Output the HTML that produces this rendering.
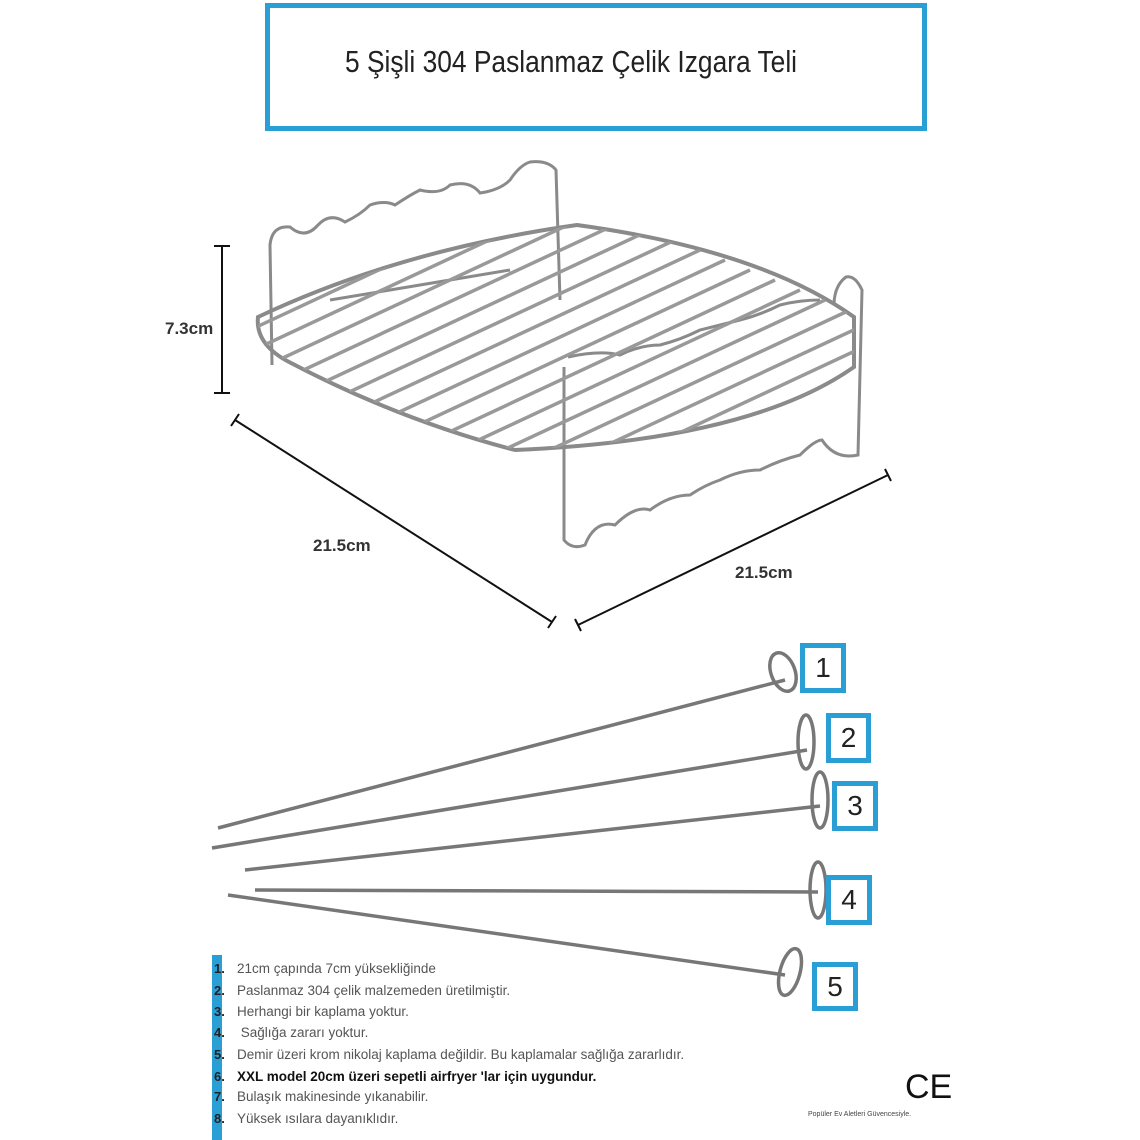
<!DOCTYPE html>
<html><head><meta charset="utf-8"><style>
body{margin:0;background:#fff;width:1140px;height:1140px;overflow:hidden;font-family:"Liberation Sans",sans-serif}
.t{position:absolute;left:237px;font-size:13.5px;color:#555}
.n{position:absolute;left:214px;font-size:13px;color:#222;font-weight:bold}
.box{position:absolute;border:5px solid #2a9fd6;background:#fff;font-size:28px;text-align:center;color:#222;box-sizing:border-box}
</style></head><body>
<div class="box" style="left:265px;top:3px;width:662px;height:128px;"></div>
<div style="position:absolute;left:240px;top:44px;width:662px;text-align:center;font-family:'Liberation Sans Narrow','Liberation Sans',sans-serif;font-size:31px;color:#222;transform:scaleX(0.85)">5 Şişli 304 Paslanmaz Çelik Izgara Teli</div>
<svg width="1140" height="1140" style="position:absolute;left:0;top:0">
<defs><clipPath id="c"><path d="M258,317 Q400,250 577,225 Q760,250 854,317 L854,367 Q750,440 515,450 Q400,420 291,363 Q255,345 258,317Z"/></clipPath></defs>
<g stroke="#8a8a8a" stroke-width="3" fill="none">
<path d="M272,365 L270,245 Q272,225 290,227 Q305,240 318,225 Q330,212 345,222 Q360,215 370,205 Q385,200 395,205 Q410,195 420,190 Q440,195 450,185 Q470,180 480,193 Q500,190 510,180 Q520,165 530,162 Q548,160 556,170 L560,300"/>
<path d="M564,367 L564,540 Q572,550 585,545 Q595,520 615,525 Q635,505 650,510 Q670,495 690,495 Q705,485 720,480 Q740,470 760,470 Q780,460 800,455 Q815,440 822,440 Q835,460 858,455 L862,290 Q855,275 846,277 Q835,285 834,303"/>
<path d="M568,357 Q600,350 620,355 Q640,345 660,345 Q680,340 700,330 Q720,325 740,320 Q760,315 780,305 Q800,300 820,300"/>
<path d="M330,300 Q360,295 390,290 Q420,285 450,280 Q480,275 510,270"/>
<path d="M258,317 Q400,250 577,225 Q760,250 854,317 L854,367 Q750,440 515,450 Q400,420 291,363 Q255,345 258,317Z" stroke-width="4"/>
<g clip-path="url(#c)" stroke-width="3.5" stroke="#999">
<line x1="150" y1="420" x2="600" y2="210"/><line x1="175" y1="430" x2="625" y2="220"/><line x1="200" y1="440" x2="650" y2="230"/><line x1="225" y1="450" x2="675" y2="240"/><line x1="250" y1="460" x2="700" y2="250"/><line x1="275" y1="470" x2="725" y2="260"/><line x1="300" y1="480" x2="750" y2="270"/><line x1="325" y1="490" x2="775" y2="280"/><line x1="350" y1="500" x2="800" y2="290"/><line x1="375" y1="510" x2="825" y2="300"/><line x1="400" y1="520" x2="850" y2="310"/><line x1="425" y1="530" x2="875" y2="320"/><line x1="450" y1="540" x2="900" y2="330"/><line x1="475" y1="550" x2="925" y2="340"/><line x1="500" y1="560" x2="950" y2="350"/><line x1="525" y1="570" x2="975" y2="360"/><line x1="550" y1="580" x2="1000" y2="370"/><line x1="575" y1="590" x2="1025" y2="380"/><line x1="600" y1="600" x2="1050" y2="390"/><line x1="125" y1="410" x2="575" y2="200"/><line x1="100" y1="400" x2="550" y2="190"/>
</g>
</g>
<g stroke="#111" stroke-width="2">
<line x1="222" y1="246" x2="222" y2="393"/><line x1="214" y1="246" x2="230" y2="246"/><line x1="214" y1="393" x2="230" y2="393"/>
<line x1="235" y1="420" x2="552" y2="622"/><line x1="231" y1="426" x2="239" y2="414"/><line x1="548" y1="628" x2="556" y2="616"/>
<line x1="578" y1="625" x2="888" y2="475"/><line x1="575" y1="619" x2="581" y2="631"/><line x1="885" y1="469" x2="891" y2="481"/>
</g>
<g font-size="17" font-weight="bold" fill="#333"><text x="165" y="334">7.3cm</text><text x="313" y="551">21.5cm</text><text x="735" y="578">21.5cm</text></g>
<g stroke="#777" stroke-width="3.5" fill="none">
<line x1="218" y1="828" x2="785" y2="680"/><ellipse cx="783" cy="672" rx="12" ry="20" transform="rotate(-20 783 672)"/>
<line x1="212" y1="848" x2="807" y2="750"/><ellipse cx="806" cy="742" rx="8" ry="27"/>
<line x1="245" y1="870" x2="820" y2="806"/><ellipse cx="820" cy="800" rx="8" ry="28"/>
<line x1="255" y1="890" x2="818" y2="892"/><ellipse cx="818" cy="890" rx="8" ry="28"/>
<line x1="228" y1="895" x2="785" y2="975"/><ellipse cx="790" cy="972" rx="10" ry="24" transform="rotate(15 790 972)"/>
</g>
<text x="905" y="1098" font-size="34" fill="#111">CE</text>
<text x="808" y="1116" font-size="7" fill="#444">Popüler Ev Aletleri Güvencesiyle.</text>
</svg>
<div class="box" style="left:800px;top:643px;width:46px;height:50px;line-height:40px">1</div>
<div class="box" style="left:826px;top:713px;width:45px;height:50px;line-height:40px">2</div>
<div class="box" style="left:832px;top:781px;width:46px;height:50px;line-height:40px">3</div>
<div class="box" style="left:826px;top:875px;width:46px;height:50px;line-height:40px">4</div>
<div class="box" style="left:812px;top:962px;width:46px;height:49px;line-height:40px">5</div>
<div style="position:absolute;left:212px;top:955px;width:10px;height:185px;background:#2a9fd6"></div>
<div class="n" style="top:961px">1.</div><div class="t" style="top:961px">21cm çapında 7cm yüksekliğinde</div>
<div class="n" style="top:983px">2.</div><div class="t" style="top:983px">Paslanmaz 304 çelik malzemeden üretilmiştir.</div>
<div class="n" style="top:1004px">3.</div><div class="t" style="top:1004px">Herhangi bir kaplama yoktur.</div>
<div class="n" style="top:1025px">4.</div><div class="t" style="top:1025px">&nbsp;Sağlığa zararı yoktur.</div>
<div class="n" style="top:1047px">5.</div><div class="t" style="top:1047px">Demir üzeri krom nikolaj kaplama değildir. Bu kaplamalar sağlığa zararlıdır.</div>
<div class="n" style="top:1069px">6.</div><div class="t" style="top:1069px;font-weight:bold;color:#111">XXL model 20cm üzeri sepetli airfryer 'lar için uygundur.</div>
<div class="n" style="top:1089px">7.</div><div class="t" style="top:1089px">Bulaşık makinesinde yıkanabilir.</div>
<div class="n" style="top:1111px">8.</div><div class="t" style="top:1111px">Yüksek ısılara dayanıklıdır.</div>
</body></html>
